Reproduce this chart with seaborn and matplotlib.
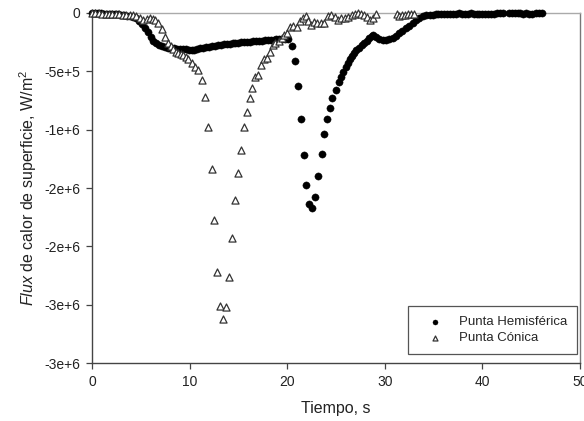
import matplotlib
matplotlib.use("Agg")
import matplotlib.pyplot as plt
import seaborn as sns
import pandas as pd

# Punta Hemisférica: tiempo (s) y flux (en unidades de 1e5 W/m2)
t_hemi = [0.0, 0.3, 0.6, 0.9, 1.2, 1.5, 1.8, 2.1, 2.4, 2.7,
          3.0, 3.3, 3.6, 3.9, 4.2, 4.5, 4.8, 5.1, 5.4, 5.7,
          6.0, 6.3, 6.6, 6.9, 7.2, 7.5, 7.8, 8.1, 8.4, 8.7,
          9.0, 9.3, 9.6, 9.9, 10.2, 10.5, 10.8, 11.1, 11.4, 11.7,
          12.0, 12.3, 12.6, 12.9, 13.2, 13.5, 13.8, 14.1, 14.4, 14.7,
          15.0, 15.3, 15.6, 15.9, 16.2, 16.5, 16.8, 17.1, 17.4, 17.7,
          18.0, 18.3, 18.6, 18.9, 19.2, 19.5, 19.8, 20.1, 20.46, 20.8,
          21.07, 21.38, 21.7, 21.96, 22.2, 22.57, 22.88, 23.19, 23.53, 23.8,
          24.08, 24.35, 24.62, 25.0, 25.3, 25.5, 25.75, 26.0, 26.23, 26.43,
          26.64, 26.84, 27.1, 27.4, 27.66, 27.9, 28.15, 28.4, 28.66, 28.8,
          29.1, 29.44, 29.78, 30.1, 30.46, 30.8, 31.15, 31.5, 31.8, 32.17,
          32.5, 32.86, 33.2, 33.5, 33.9, 34.2, 34.6, 34.9, 35.2, 35.5,
          35.8, 36.1, 36.4, 36.7, 37.0, 37.3, 37.6, 37.9, 38.2, 38.5,
          38.8, 39.1, 39.4, 39.7, 40.0, 40.3, 40.6, 40.9, 41.2, 41.5,
          41.8, 42.1, 42.7, 43.0, 43.3, 43.6, 43.9, 44.2, 44.5, 44.8,
          45.1, 45.5, 45.8, 46.1]
flux_hemi = [-0.02, -0.03, -0.03, -0.04, -0.05, -0.06, -0.07, -0.08, -0.10, -0.12,
             -0.15, -0.18, -0.22, -0.27, -0.35, -0.45, -0.65, -0.90, -1.25, -1.65,
             -2.05, -2.38, -2.60, -2.74, -2.85, -2.93, -2.98, -3.02, -3.04, -3.06,
             -3.08, -3.10, -3.12, -3.13, -3.14, -3.15, -3.10, -3.02, -2.96, -2.92,
             -2.88, -2.85, -2.81, -2.76, -2.72, -2.69, -2.66, -2.63, -2.60, -2.57,
             -2.54, -2.52, -2.50, -2.47, -2.45, -2.42, -2.40, -2.38, -2.36, -2.34,
             -2.32, -2.30, -2.28, -2.27, -2.25, -2.23, -2.21, -2.25, -2.83, -4.12,
             -6.26, -9.09, -12.15, -14.70, -16.35, -16.70, -15.75, -13.98, -12.07, -10.40,
             -9.09, -8.12, -7.26, -6.60, -5.94, -5.52, -5.03, -4.60, -4.26, -3.97,
             -3.66, -3.40, -3.17, -2.97, -2.77, -2.60, -2.37, -2.17, -1.97, -1.86,
             -2.03, -2.23, -2.32, -2.32, -2.26, -2.12, -1.97, -1.74, -1.54, -1.31,
             -1.09, -0.83, -0.60, -0.40, -0.26, -0.17, -0.14, -0.13, -0.12, -0.11,
             -0.10, -0.09, -0.08, -0.07, -0.06, -0.05, -0.04, -0.05, -0.06, -0.05,
             -0.04, -0.06, -0.07, -0.07, -0.06, -0.07, -0.06, -0.05, -0.05, -0.04,
             -0.03, -0.03, -0.03, -0.04, -0.04, -0.03, -0.04, -0.05, -0.04, -0.05,
             -0.05, -0.04, -0.03, -0.02]

# Punta Cónica
t_conica = [0.0, 0.35, 0.7, 1.05, 1.4, 1.75, 2.1, 2.45, 2.8, 3.15,
            3.5, 3.85, 4.2, 4.55, 4.9, 5.26, 5.6, 5.94, 6.2, 6.45,
            6.8, 7.14, 7.48, 7.82, 8.1, 8.33, 8.6, 8.84, 9.1, 9.35,
            9.6, 9.87, 10.2, 10.55, 10.9, 11.24, 11.58, 11.92, 12.26, 12.53,
            12.84, 13.15, 13.45, 13.76, 14.07, 14.38, 14.65, 14.96, 15.27, 15.57,
            15.85, 16.19, 16.42, 16.73, 17.04, 17.35, 17.62, 17.9, 18.24, 18.5,
            18.8, 19.13, 19.44, 19.7, 19.95, 20.29, 20.63, 20.97, 21.3, 21.65,
            21.93, 22.16, 22.44, 22.78, 23.1, 23.46, 23.8, 24.15, 24.5, 24.9,
            25.2, 25.55, 25.9, 26.25, 26.6, 26.95, 27.3, 27.6, 27.9, 28.2,
            28.5, 28.8, 29.1, 31.2, 31.5, 31.8, 32.1, 32.4, 32.7, 33.0]
flux_conica = [-0.02, -0.03, -0.03, -0.05, -0.06, -0.05, -0.08, -0.10, -0.12, -0.14,
               -0.15, -0.17, -0.20, -0.25, -0.40, -0.60, -0.52, -0.46, -0.50, -0.60,
               -0.89, -1.40, -2.09, -2.60, -2.85, -3.12, -3.30, -3.46, -3.50, -3.60,
               -3.75, -3.97, -4.30, -4.60, -4.90, -5.75, -7.18, -9.75, -13.38, -17.73,
               -22.24, -25.10, -26.20, -25.24, -22.60, -19.32, -16.00, -13.75, -11.70, -9.75,
               -8.46, -7.26, -6.46, -5.52, -5.30, -4.46, -3.97, -3.88, -3.37, -2.74,
               -2.60, -2.37, -2.17, -1.89, -1.74, -1.17, -1.10, -1.23, -0.66, -0.46,
               -0.26, -0.66, -1.03, -0.74, -0.83, -0.83, -0.83, -0.23, -0.17, -0.32,
               -0.60, -0.46, -0.40, -0.32, -0.17, -0.10, -0.03, -0.09, -0.20, -0.32,
               -0.60, -0.40, -0.09, -0.09, -0.26, -0.20, -0.17, -0.12, -0.09, -0.05]

x_ticks = [0, 10, 20, 30, 40, 50]
y_ticks = [0, -5e5, -1e6, -1.5e6, -2e6, -2.5e6, -3e6]
y_tick_labels = ['0', '-5e+5', '-1e+6', '-2e+6', '-2e+6', '-3e+6', '-3e+6']

hemi = pd.DataFrame({'t': t_hemi, 'flux': [v * 1e5 for v in flux_hemi]})
conica = pd.DataFrame({'t': t_conica, 'flux': [v * 1e5 for v in flux_conica]})

sns.set_style("ticks")
plt.rcParams['font.family'] = ['Liberation Sans', 'DejaVu Sans']
plt.rcParams['mathtext.fontset'] = 'custom'
plt.rcParams['mathtext.rm'] = 'Liberation Sans'
plt.rcParams['mathtext.it'] = 'Liberation Sans:italic'

fig = plt.figure(figsize=(5.84, 4.21), dpi=100)
ax = fig.add_axes([92 / 584, 1 - 363 / 421, 488 / 584, 350 / 421])

sns.scatterplot(data=hemi, x='t', y='flux', ax=ax, marker='o', color='black',
                edgecolor='black', linewidth=0.3, s=27, label='Punta Hemisférica',
                clip_on=False, zorder=3)
sns.scatterplot(data=conica, x='t', y='flux', ax=ax, marker='^', color='white',
                edgecolor='#333333', linewidth=0.9, s=26, label='Punta Cónica',
                clip_on=False, zorder=4)

ax.set_xlim(0, 50)
ax.set_ylim(-3e6, 0)
ax.set_xticks(x_ticks)
ax.set_yticks(y_ticks)
ax.set_yticklabels(y_tick_labels)
ax.tick_params(axis='both', labelsize=10, length=4.5, width=0.9, color='#444444',
               pad=4, labelcolor='#222222')

ax.set_xlabel('Tiempo, s', fontsize=11.5, labelpad=9, color='#222222')
ax.set_ylabel(r'$\mathit{Flux}$ de calor de superficie, W/m$^2$', fontsize=11.5,
              labelpad=4, color='#222222')

for side in ['left', 'bottom']:
    ax.spines[side].set_color('#444444')
    ax.spines[side].set_linewidth(1.0)
ax.spines['top'].set_color('#aaaaaa')
ax.spines['right'].set_color('#777777')
ax.spines['top'].set_linewidth(1.0)
ax.spines['right'].set_linewidth(1.0)

leg = ax.legend(loc='lower right', bbox_to_anchor=(0.994, 0.026), borderaxespad=0,
                frameon=True, fancybox=False, edgecolor='#555555', framealpha=1,
                fontsize=9.5, handlelength=2.5, handletextpad=0.6, borderpad=0.75,
                labelspacing=0.25, markerscale=0.7)
leg.get_frame().set_linewidth(0.9)

fig.savefig('out.png', dpi=100)
